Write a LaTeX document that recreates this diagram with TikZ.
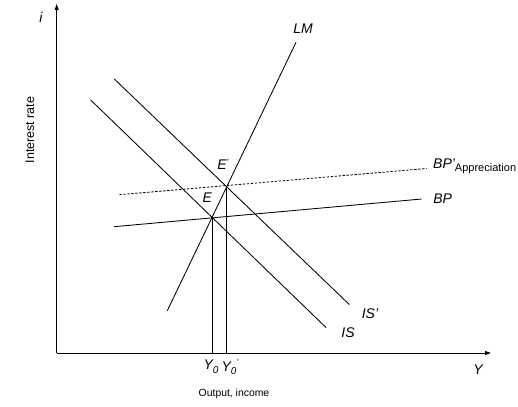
\documentclass[tikz,border=0pt]{standalone}
\usepackage{fontspec}
\setmainfont{Liberation Sans}
\usetikzlibrary{arrows.meta,intersections}
\begin{document}
\begin{tikzpicture}[x=1pt,y=-1pt,
  curve/.style={line width=0.85pt,black},
  axis/.style={line width=0.85pt,black,-{Triangle[length=6pt,width=4pt]}},
  lbl/.style={font=\fontsize{14}{14}\selectfont\itshape,inner sep=0pt},
  small/.style={font=\fontsize{10.4}{12}\selectfont,inner sep=0pt}]
\useasboundingbox (0,0) rectangle (518,406);
% axes
\coordinate (O) at (56.7,353);
\coordinate (ytop) at (56.7,4);
\coordinate (xend) at (491,353);
\draw[axis] (O) -- (ytop);
\draw[axis] (O) -- (xend);
% curve endpoints
\coordinate (LMa) at (167.3,310.7);
\coordinate (LMb) at (296,42.3);
\coordinate (ISa) at (90.7,100);
\coordinate (ISb) at (326,327.5);
\coordinate (ISpa) at (114.3,79);
\coordinate (ISpb) at (349.3,304.5);
\coordinate (BPa) at (114,226.7);
\coordinate (BPb) at (421.7,199);
\coordinate (BPpa) at (119.3,194.7);
\coordinate (BPpb) at (426.7,168.5);
\draw[curve,name path=LM] (LMa) -- (LMb);
\draw[curve,name path=IS] (ISa) -- (ISb);
\draw[curve,name path=ISp] (ISpa) -- (ISpb);
\draw[curve,name path=BP] (BPa) -- (BPb);
\draw[curve,dashed,dash pattern=on 2.4pt off 1.6pt,line width=0.8pt] (BPpa) -- (BPpb);
\path[name intersections={of=LM and IS,by=Ept}];
\path[name intersections={of=LM and ISp,by=Eppt}];
\draw[curve] (Ept) -- (Ept |- O);
\draw[curve] (Eppt) -- (Eppt |- O);
% labels
\node[lbl] (ilbl) at (41,17.3) {i};
\node[lbl] (Ylbl) at (478,370) {Y};
\node[lbl] (LMlbl) at (303,29) {LM};
\node[lbl] (ISlbl) at (348,333) {IS};
\node[lbl] (ISplbl) at (370,313.7) {IS'};
\node[lbl] (BPlbl) at (442.7,198.3) {BP};
\node[lbl,anchor=west] (BPplbl) at (433,166) {BP'\raisebox{-0.45ex}{\upshape\fontsize{11}{11}\selectfont Appreciation}};
\node[lbl] (Elbl) at (207.3,197.7) {E};
\node[lbl] (Eplbl) at (223,164.5) {E\raisebox{0.5ex}{\fontsize{9}{9}\selectfont'}};
\node[lbl] (Y0lbl) at (211,367) {Y\raisebox{-0.5ex}{\fontsize{10}{10}\selectfont 0}};
\node[lbl] (Y0plbl) at (230,367) {Y\raisebox{-0.5ex}{\fontsize{10}{10}\selectfont 0}\raisebox{0.8ex}{\fontsize{9}{9}\selectfont'}};
\node[small] (xlbl) at (234,394) {Output, income};
\node[small,rotate=90,font=\fontsize{12.5}{12.5}\selectfont] (ylbl) at (30,130) {Interest rate};
\end{tikzpicture}
\end{document}
